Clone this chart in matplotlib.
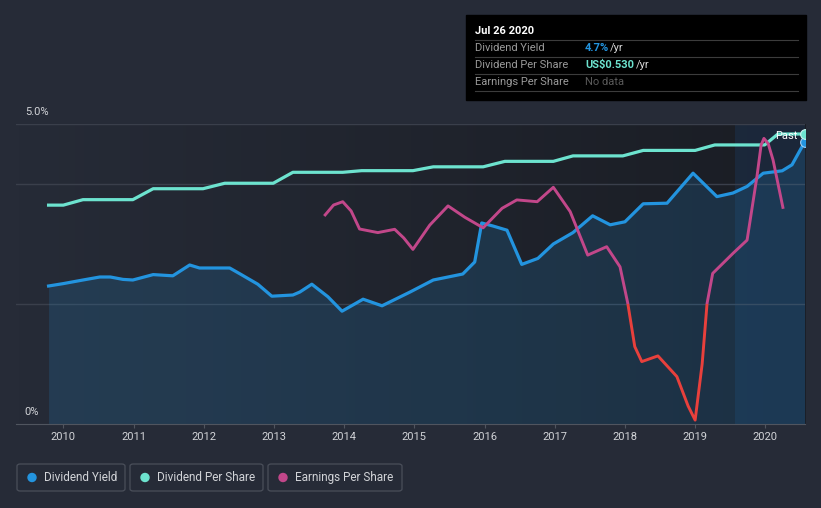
import numpy as np
import matplotlib
matplotlib.use("Agg")
import matplotlib.pyplot as plt
import matplotlib.patches as mpatches
from matplotlib.colors import LinearSegmentedColormap

plt.rcParams["font.family"] = ["Roboto", "DejaVu Sans"]

W, H = 821, 508

# ---- data ----
yield_years = [2009.79, 2010.0, 2010.28, 2010.52, 2010.67, 2010.85, 2010.99, 2011.28, 2011.56,
               2011.80, 2011.94, 2012.37, 2012.52, 2012.77, 2012.97, 2013.27, 2013.37, 2013.54,
               2013.77, 2013.97, 2014.27, 2014.54, 2014.94, 2015.27, 2015.69, 2015.86, 2015.96,
               2016.12, 2016.32, 2016.53, 2016.76, 2016.98, 2017.26, 2017.54, 2017.79, 2018.0,
               2018.26, 2018.60, 2018.97, 2019.31, 2019.54, 2019.74, 2019.97, 2020.24, 2020.38,
               2020.56]
yield_pct = [2.30, 2.34, 2.40, 2.45, 2.45, 2.41, 2.40, 2.49, 2.47,
             2.65, 2.60, 2.60, 2.50, 2.33, 2.13, 2.15, 2.20, 2.33,
             2.12, 1.88, 2.08, 1.97, 2.20, 2.40, 2.50, 2.70, 3.35,
             3.30, 3.23, 2.66, 2.76, 3.00, 3.19, 3.47, 3.32, 3.37,
             3.67, 3.68, 4.18, 3.79, 3.85, 3.96, 4.18, 4.22, 4.32,
             4.70]

dps_years = [2009.79, 2010.0, 2010.28, 2010.99, 2011.28, 2011.99, 2012.30, 2012.99, 2013.27,
             2013.98, 2014.25, 2014.98, 2015.27, 2015.98, 2016.29, 2016.98, 2017.26, 2017.97,
             2018.26, 2019.0, 2019.28, 2019.99, 2020.18, 2020.56]
dps_usd = [0.40, 0.40, 0.41, 0.41, 0.43, 0.43, 0.44, 0.44, 0.46,
           0.46, 0.463, 0.463, 0.47, 0.47, 0.48, 0.48, 0.49, 0.49,
           0.50, 0.50, 0.51, 0.51, 0.53, 0.53]

eps_years = [2013.73, 2013.85, 2013.98, 2014.10, 2014.22, 2014.48, 2014.72, 2014.85, 2014.98,
             2015.22, 2015.48, 2015.72, 2015.98, 2016.25, 2016.46, 2016.75, 2016.98, 2017.22,
             2017.47, 2017.74, 2017.93, 2018.04, 2018.14, 2018.24, 2018.47, 2018.74, 2018.90,
             2019.0, 2019.10, 2019.17, 2019.25, 2019.54, 2019.74, 2019.88, 2019.94, 2019.98,
             2020.04, 2020.11, 2020.25]
eps_usd = [0.297, 0.33, 0.341, 0.31, 0.25, 0.238, 0.249, 0.22, 0.182,
           0.263, 0.327, 0.289, 0.254, 0.319, 0.347, 0.341, 0.389, 0.308,
           0.163, 0.191, 0.124, 0.003, -0.142, -0.192, -0.173, -0.242, -0.34,
           -0.387, -0.20, 0.002, 0.102, 0.169, 0.213, 0.424, 0.53, 0.552,
           0.535, 0.48, 0.322]

year_ticks = list(range(2010, 2021))

BG = "#262b37"
BLUE = "#2394df"
TEAL = "#6de3cf"
PINK = "#c2478a"
RED = "#e8403c"
GRID = "#3a3f4b"
TXT = "#d2d4d8"


def fx(x):
    return x / W


def fy(y):
    return 1 - y / H


fig = plt.figure(figsize=(W / 100, H / 100), dpi=100, facecolor=BG)
ax = fig.add_axes([fx(16), fy(424), fx(805) - fx(16), fy(124) - fy(424)])
ax.set_facecolor(BG)
x0, x1 = 2009.326, 2020.565
ax.set_xlim(x0, x1)
ax.set_ylim(0, 5)

# plot area gradient
grad = np.linspace(0, 1, 256).reshape(1, -1)
cmap = LinearSegmentedColormap.from_list("bg", [BG, "#1a1d24"])
ax.imshow(grad, extent=[0, 1, 0, 1], transform=ax.transAxes, aspect="auto", cmap=cmap, zorder=0)

# past-year band
ax.axvspan(x1 - 1.0, x1, color="#1d3b63", alpha=0.35, lw=0, zorder=0.5)

for g in (2, 4, 5):
    ax.axhline(g, color=GRID, lw=1, zorder=1)

ax.fill_between(yield_years, yield_pct, 0, color=BLUE, alpha=0.17, lw=0, zorder=2)
ax.plot(yield_years, yield_pct, color=BLUE, lw=2.3, solid_joinstyle="round", zorder=5)
ax.plot([yield_years[-1]], [yield_pct[-1]], "o", ms=7, color=BLUE, mec="#9fd0f5", mew=0.8, zorder=6)

for s in ("top", "right", "left"):
    ax.spines[s].set_visible(False)
ax.spines["bottom"].set_color("#50555f")
ax.set_yticks([])
ax.set_xticks(year_ticks)
ax.set_xticklabels([str(y) for y in year_ticks])
ax.tick_params(axis="x", colors="#50555f", labelcolor=TXT, labelsize=8, length=3, pad=3)

# dividend per share axis
ax2 = ax.twinx()
ax2.set_ylim(0, 0.53 * 300 / 290)
ax2.plot(dps_years, dps_usd, color=TEAL, lw=2.3, solid_joinstyle="round", zorder=5)
ax2.plot([dps_years[-1]], [dps_usd[-1]], "o", ms=7, color=TEAL, mec="#c8f5ee", mew=0.8, zorder=6)

# earnings per share axis
ax3 = ax.twinx()
ax3.set_ylim(-0.4, 0.6)
top = mpatches.Rectangle((2000, 0), 40, 10, transform=ax3.transData)
bot = mpatches.Rectangle((2000, -10), 40, 10, transform=ax3.transData)
l_pos, = ax3.plot(eps_years, eps_usd, color=PINK, lw=2.1, solid_joinstyle="round", zorder=4)
l_neg, = ax3.plot(eps_years, eps_usd, color=RED, lw=2.1, solid_joinstyle="round", zorder=4)
l_pos.set_clip_path(top)
l_neg.set_clip_path(bot)

for a in (ax2, ax3):
    a.set_xlim(x0, x1)
    a.patch.set_visible(False)
    a.axis("off")

fig.text(fx(797), fy(136), "Past", color="white", fontsize=8, ha="right", va="center", zorder=10)

fig.text(fx(25), fy(112), "5.0%", color=TXT, fontsize=8, va="center")
fig.text(fx(24), fy(412), "0%", color=TXT, fontsize=8, va="center")

# tooltip box
fig.patches.append(mpatches.Rectangle((fx(466), fy(100)), fx(806) - fx(466), fy(15) - fy(100),
                                      transform=fig.transFigure, color="black", zorder=0))
fig.text(fx(475), fy(31), "Jul 26 2020", color="white", fontsize=8, fontweight="bold", va="center")
for yy in (40, 57, 74, 91):
    fig.add_artist(plt.Line2D([fx(475), fx(798)], [fy(yy), fy(yy)], color="#3c3c3c", lw=0.8))
rows = [("Dividend Yield", "4.7%", BLUE, "/yr", 610, 48),
        ("Dividend Per Share", "US$0.530", TEAL, "/yr", 636, 65),
        ("Earnings Per Share", "No data", "#5a5a5a", "", 0, 82)]
for lab, val, col, unit, ux, yy in rows:
    fig.text(fx(475), fy(yy), lab, color="#9a9a9a", fontsize=8, va="center")
    fig.text(fx(585), fy(yy), val, color=col, fontsize=8, va="center",
             fontweight="bold" if col != "#5a5a5a" else "normal")
    if unit:
        fig.text(fx(ux), fy(yy), unit, color="#d8d8d8", fontsize=8, va="center")

# legend boxes
legend = [("Dividend Yield", BLUE, 17, 125), ("Dividend Per Share", TEAL, 130, 263),
          ("Earnings Per Share", PINK, 268, 402)]
for lab, col, bx0, bx1 in legend:
    fig.patches.append(mpatches.FancyBboxPatch((fx(bx0), fy(491)), fx(bx1) - fx(bx0), fy(464) - fy(491),
                                               boxstyle="round,pad=0,rounding_size=0.004",
                                               transform=fig.transFigure, fc="none", ec="#4a4f5a", lw=0.9))
    fig.add_artist(mpatches.Ellipse((fx(bx0 + 15), fy(477.5)), 8 / W, 8 / H, color=col,
                                    transform=fig.transFigure))
    fig.text(fx(bx0 + 27), fy(477.5), lab, color=TXT, fontsize=8.5, va="center")

fig.savefig("out.png", dpi=100, facecolor=BG)
